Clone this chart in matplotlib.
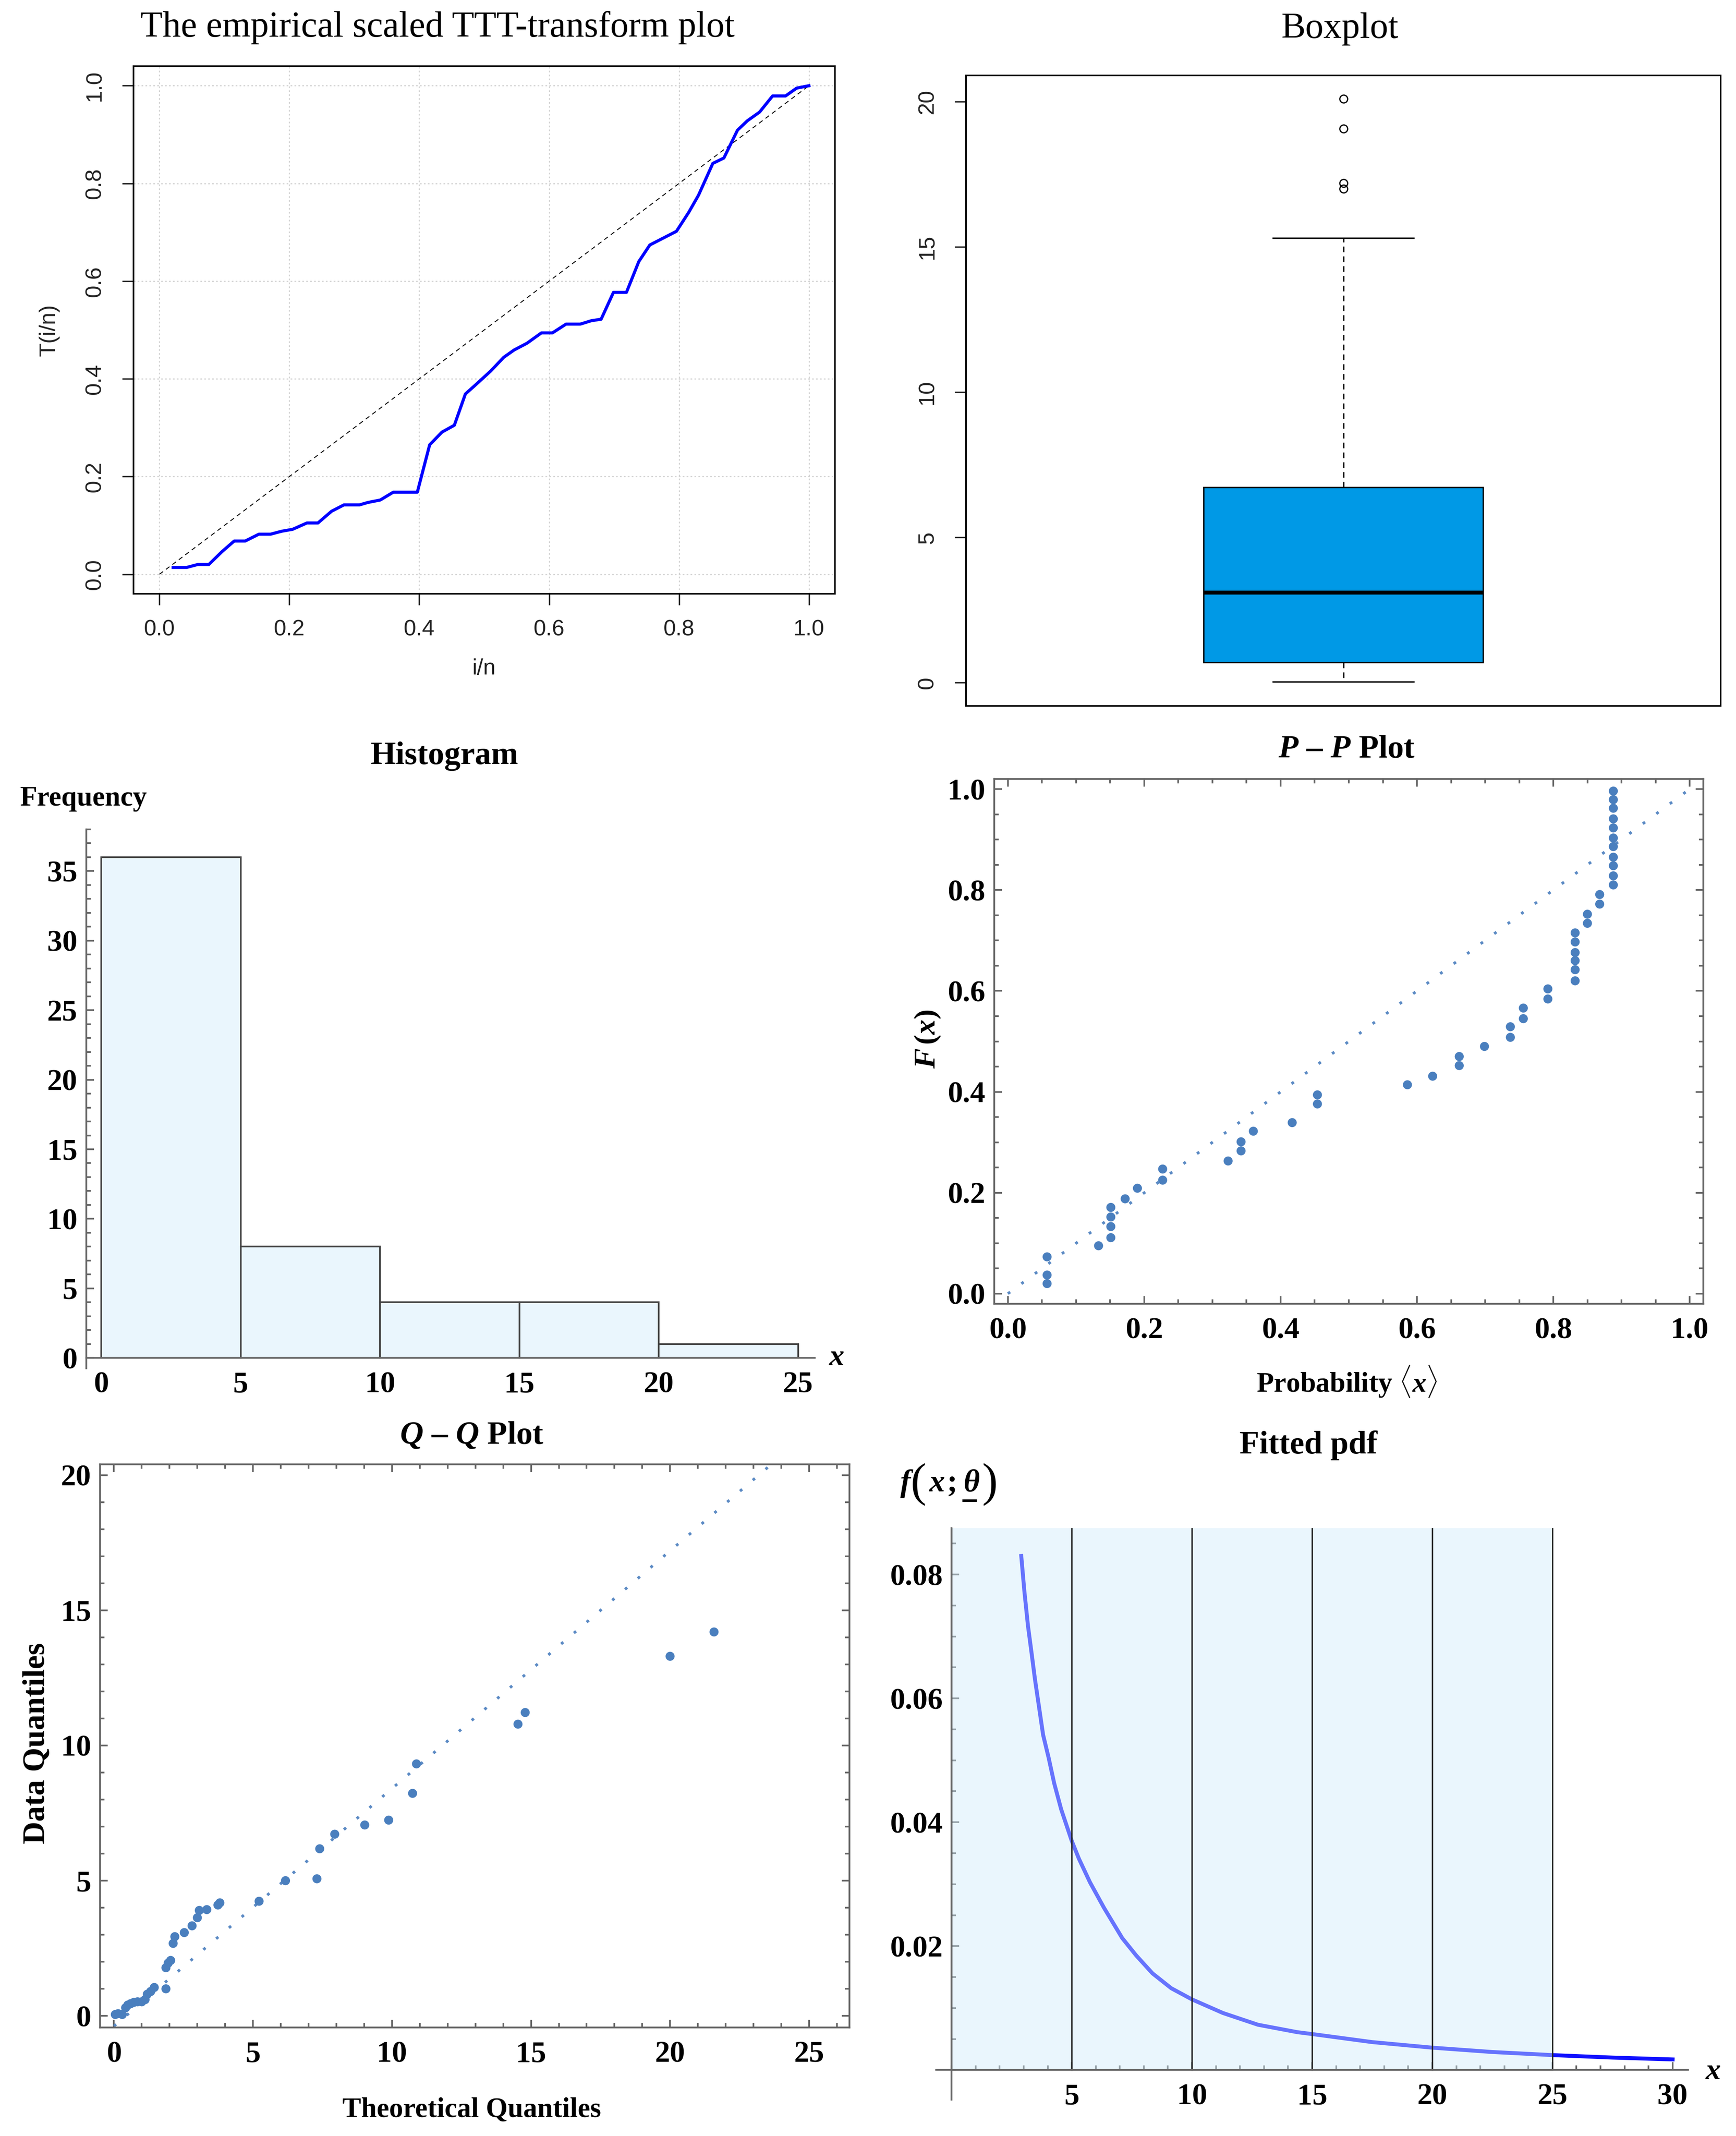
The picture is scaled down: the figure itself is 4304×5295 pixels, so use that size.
import matplotlib
matplotlib.use('Agg')
import matplotlib.pyplot as plt
from matplotlib.lines import Line2D
from matplotlib.ticker import MultipleLocator

W, H = 4304, 5295
DPI = 100

plt.rcParams['mathtext.fontset'] = 'custom'
plt.rcParams['mathtext.rm'] = 'Liberation Serif:bold'
plt.rcParams['mathtext.it'] = 'Liberation Serif:italic:bold'
plt.rcParams['mathtext.bf'] = 'Liberation Serif:bold'

# ---- data ----
# scaled TTT transform
ttt_x = [0.021, 0.042, 0.059, 0.076, 0.096, 0.115, 0.132, 0.153, 0.171, 0.188,
         0.205, 0.227, 0.244, 0.265, 0.284, 0.308, 0.321, 0.340, 0.360, 0.397,
         0.416, 0.435, 0.454, 0.471, 0.487, 0.510, 0.530, 0.546, 0.566, 0.588,
         0.605, 0.626, 0.648, 0.665, 0.680, 0.699, 0.719, 0.738, 0.755, 0.777,
         0.796, 0.815, 0.830, 0.852, 0.869, 0.890, 0.905, 0.924, 0.944, 0.964,
         0.981, 1.0]
ttt_y = [0.014, 0.014, 0.020, 0.020, 0.046, 0.068, 0.068, 0.082, 0.082, 0.088,
         0.092, 0.105, 0.105, 0.129, 0.142, 0.142, 0.147, 0.152, 0.168, 0.168,
         0.265, 0.291, 0.305, 0.369, 0.388, 0.416, 0.444, 0.459, 0.473, 0.494,
         0.494, 0.512, 0.512, 0.519, 0.522, 0.577, 0.577, 0.640, 0.674, 0.689,
         0.702, 0.741, 0.776, 0.841, 0.852, 0.909, 0.928, 0.946, 0.979, 0.979,
         0.995, 1.0]
ttt_ticks = [0.0, 0.2, 0.4, 0.6, 0.8, 1.0]
ttt_labels = ['0.0', '0.2', '0.4', '0.6', '0.8', '1.0']

# boxplot summary
box_whislo = 0.03
box_q1 = 0.70
box_med = 3.10
box_q3 = 6.72
box_whishi = 15.30
box_fliers = [17.0, 17.2, 19.07, 20.09]
box_ticks = [0, 5, 10, 15, 20]

# histogram
hist_edges = [0, 5, 10, 15, 20, 25]
hist_counts = [36, 8, 4, 4, 1]

# P-P plot
pp_x = [0.0575, 0.0575, 0.0575, 0.133, 0.151, 0.151, 0.151, 0.151, 0.172, 0.190,
        0.227, 0.227, 0.323, 0.342, 0.342, 0.360, 0.417, 0.454, 0.454, 0.586,
        0.623, 0.662, 0.662, 0.699, 0.737, 0.737, 0.756, 0.756, 0.792, 0.792,
        0.832, 0.832, 0.832, 0.832, 0.832, 0.832, 0.850, 0.850, 0.868, 0.868,
        0.888, 0.888, 0.888, 0.888, 0.888, 0.888, 0.888, 0.888, 0.888, 0.888,
        0.888]
pp_y = [0.020, 0.037, 0.073, 0.095, 0.111, 0.133, 0.152, 0.171, 0.188, 0.209,
        0.225, 0.247, 0.263, 0.283, 0.301, 0.322, 0.339, 0.376, 0.394, 0.414,
        0.431, 0.452, 0.470, 0.490, 0.508, 0.529, 0.545, 0.566, 0.584, 0.604,
        0.620, 0.642, 0.660, 0.676, 0.697, 0.715, 0.734, 0.752, 0.772, 0.791,
        0.810, 0.828, 0.848, 0.865, 0.886, 0.903, 0.923, 0.941, 0.962, 0.979,
        0.996]
pp_line_x = [0.0, 1.0]
pp_line_y = [0.0, 1.0]
pp_ticks = [0.0, 0.2, 0.4, 0.6, 0.8, 1.0]
pp_labels = ['0.0', '0.2', '0.4', '0.6', '0.8', '1.0']

# Q-Q plot
qq_x = [0.05, 0.15, 0.30, 0.42, 0.50, 0.60, 0.72, 0.85, 1.00, 1.12,
        1.20, 1.32, 1.45, 1.87, 1.87, 1.95, 2.04, 2.13, 2.19, 2.53,
        2.81, 3.00, 3.07, 3.34, 3.74, 3.81, 5.22, 6.17, 7.30, 7.40,
        7.94, 9.02, 9.88, 10.74, 10.88, 14.53, 14.79, 20.00, 21.58]
qq_y = [0.05, 0.08, 0.05, 0.30, 0.40, 0.45, 0.50, 0.52, 0.52, 0.60,
        0.80, 0.90, 1.05, 1.00, 1.78, 1.95, 2.05, 2.68, 2.93, 3.08,
        3.33, 3.63, 3.90, 3.93, 4.10, 4.18, 4.24, 5.00, 5.07, 6.18,
        6.72, 7.06, 7.24, 8.23, 9.32, 10.79, 11.22, 13.30, 14.20]
qq_line_x = [0.0, 23.64]
qq_line_y = [-0.38, 20.4]
qq_xticks = [0, 5, 10, 15, 20, 25]
qq_yticks = [0, 5, 10, 15, 20]

# fitted pdf
pdf_x = [2.90, 3.03, 3.18, 3.32, 3.47, 3.64, 3.81, 4.04, 4.27, 4.56,
         5.00, 5.30, 5.76, 6.34, 7.10, 7.68, 8.36, 9.14, 10.0, 11.29,
         12.75, 14.39, 15.0, 17.5, 20.0, 22.5, 25.0, 27.5, 30.0]
pdf_y = [0.0830, 0.0773, 0.0717, 0.0676, 0.0631, 0.0586, 0.0541, 0.0504, 0.0463, 0.0421,
         0.0370, 0.0341, 0.0303, 0.0262, 0.0213, 0.0185, 0.0156, 0.0132, 0.0114, 0.0092,
         0.0073, 0.0061, 0.0058, 0.0045, 0.0036, 0.0029, 0.0024, 0.0020, 0.0017]
pdf_xticks = [5, 10, 15, 20, 25, 30]
pdf_yticks = [0.02, 0.04, 0.06, 0.08]
pdf_ylabels = ['0.02', '0.04', '0.06', '0.08']

# ---- styles ----
R_FONT = 'Liberation Sans'
SERIF = 'Liberation Serif'
M_GRAY = '#666666'
PT_BLUE = '#4a7fbe'
LINE_BLUE = '#5b8ac4'
R_FS = 40
TICK_FS = 54
LABEL_FS = 50
TITLE_FS = 58

fig = plt.figure(figsize=(W / DPI, H / DPI), dpi=DPI)


def axes_px(l, t, r, b):
    """Add axes from pixel box (left, top, right, bottom)."""
    return fig.add_axes([l / W, 1 - b / H, (r - l) / W, (b - t) / H])


def text_px(x, y, s, **kw):
    fig.text(x / W, 1 - y / H, s, **kw)


def r_style(ax):
    for sp in ax.spines.values():
        sp.set_linewidth(2.8)
        sp.set_color('black')
    ax.tick_params(direction='out', length=20, width=2.5, labelsize=R_FS,
                   colors='#222222')


def m_frame(ax):
    for sp in ax.spines.values():
        sp.set_linewidth(3.2)
        sp.set_color(M_GRAY)
    ax.tick_params(which='both', direction='in', top=True, right=True,
                   color=M_GRAY, width=3)
    ax.tick_params(which='major', length=14, pad=16)
    ax.tick_params(which='minor', length=8)


def m_axes(ax):
    for s in ['left', 'bottom']:
        ax.spines[s].set_color(M_GRAY)
        ax.spines[s].set_linewidth(3.2)
        ax.spines[s].set_zorder(3)
    ax.tick_params(which='both', direction='in', color=M_GRAY, width=3)
    ax.tick_params(which='major', length=14, pad=16)
    ax.tick_params(which='minor', length=8)


def bold_ticks(ax, xt, xl, yt, yl):
    kw = dict(fontsize=TICK_FS, fontweight='bold', family=SERIF)
    ax.set_xticks(xt, labels=xl, **kw)
    ax.set_yticks(yt, labels=yl, **kw)


# ---- TTT plot ----
ax1 = axes_px(331, 164, 2070, 1472)
ax1.plot(ttt_x, ttt_y, color='#0000ff', lw=5.5, zorder=3)
ax1.plot([0, 1], [0, 1], color='black', lw=1.6, ls=(0, (5, 4)), zorder=2)
ax1.set_xlim(-0.04, 1.04)
ax1.set_ylim(-0.04, 1.04)
ax1.set_xticks(ttt_ticks, labels=ttt_labels, family=R_FONT)
ax1.set_yticks(ttt_ticks, labels=ttt_labels, family=R_FONT, rotation=90, va='center')
ax1.grid(True, color='#d3d3d3', lw=2, ls=(0, (1.5, 2)))
r_style(ax1)
ax1.tick_params(axis='x', pad=26)
ax1.tick_params(axis='y', pad=30)
text_px(1200, 1658, 'i/n', family=R_FONT, fontsize=R_FS, ha='center', va='center', color='#222222')
text_px(122, 818, 'T(i/n)', family=R_FONT, fontsize=R_FS, ha='center', va='center',
        rotation=90, color='#222222')
text_px(1085, 68, 'The empirical scaled TTT-transform plot', family=SERIF,
        fontsize=65, ha='center', va='center')

# ---- Boxplot ----
ax2 = axes_px(2395, 187, 4266, 1750)
stats = [dict(med=box_med, q1=box_q1, q3=box_q3, whislo=box_whislo,
              whishi=box_whishi, fliers=box_fliers)]
ax2.bxp(stats, positions=[1], widths=0.37, capwidths=0.187, patch_artist=True,
        boxprops=dict(facecolor='#0099e6', edgecolor='black', linewidth=2.5),
        medianprops=dict(color='black', linewidth=7, solid_capstyle='butt'),
        whiskerprops=dict(color='black', linewidth=2.5, linestyle=(0, (4, 3))),
        capprops=dict(color='black', linewidth=2.5),
        flierprops=dict(marker='o', markerfacecolor='none', markeredgecolor='black',
                        markersize=14, markeredgewidth=2.2))
ax2.set_xlim(0.5, 1.5)
ax2.set_ylim(-0.8, 20.9)
ax2.set_xticks([])
ax2.set_yticks(box_ticks, labels=[str(t) for t in box_ticks], family=R_FONT,
               rotation=90, va='center')
r_style(ax2)
ax2.tick_params(axis='y', pad=30)
text_px(3322, 72, 'Boxplot', family=SERIF, fontsize=65, ha='center', va='center')

# ---- Histogram ----
hist_widths = [hist_edges[i + 1] - hist_edges[i] for i in range(len(hist_counts))]
ax3 = axes_px(214, 2056, 2020, 3392)
ax3.bar(hist_edges[:-1], hist_counts, width=hist_widths, align='edge',
        facecolor='#eaf6fd', edgecolor='#444444', linewidth=3, zorder=2)
ax3.set_xlim(-0.54, 25.6)
ax3.set_ylim(-0.75, 38)
for s in ['top', 'right']:
    ax3.spines[s].set_visible(False)
ax3.spines['bottom'].set_position(('data', 0))
m_axes(ax3)
ax3.tick_params(axis='x', which='major', pad=24)
bold_ticks(ax3, hist_edges, [str(t) for t in hist_edges],
           [0, 5, 10, 15, 20, 25, 30, 35], ['0', '5', '10', '15', '20', '25', '30', '35'])
ax3.xaxis.set_minor_locator(MultipleLocator(1))
ax3.yaxis.set_minor_locator(MultipleLocator(1))
text_px(1102, 1875, 'Histogram', family=SERIF, fontweight='bold', fontsize=TITLE_FS,
        ha='center', va='center')
text_px(50, 1980, 'Frequency', family=SERIF, fontweight='bold', fontsize=LABEL_FS,
        ha='left', va='center')
text_px(2075, 3366, 'x', family=SERIF, fontweight='bold', style='italic',
        fontsize=LABEL_FS + 4, ha='center', va='center')

# ---- P-P plot ----
ax4 = axes_px(2465, 1931, 4223, 3232)
ax4.plot(pp_line_x, pp_line_y, color=LINE_BLUE, lw=5, ls=(0, (1, 5)), zorder=2)
ax4.scatter(pp_x, pp_y, s=260, color=PT_BLUE, edgecolors='none', zorder=3)
ax4.set_xlim(-0.02, 1.02)
ax4.set_ylim(-0.02, 1.02)
m_frame(ax4)
bold_ticks(ax4, pp_ticks, pp_labels, pp_ticks, pp_labels)
ax4.xaxis.set_minor_locator(MultipleLocator(0.05))
ax4.yaxis.set_minor_locator(MultipleLocator(0.05))
ax4.tick_params(axis='x', which='major', pad=24)
text_px(3339, 1858, r'$P$ – $P$ Plot', family=SERIF, fontweight='bold',
        fontsize=TITLE_FS, ha='center', va='center')
text_px(3339, 3424, r'Probability $\langle x\rangle$', family=SERIF, fontweight='bold',
        fontsize=LABEL_FS, ha='center', va='center')
text_px(2300, 2576, r'$F\,(x)$', family=SERIF, fontweight='bold',
        fontsize=LABEL_FS + 4, ha='center', va='center', rotation=90)

# ---- Q-Q plot ----
ax5 = axes_px(248, 3630, 2106, 5026)
ax5.plot(qq_line_x, qq_line_y, color=LINE_BLUE, lw=5, ls=(0, (1, 5)), zorder=2)
ax5.scatter(qq_x, qq_y, s=260, color=PT_BLUE, edgecolors='none', zorder=3)
ax5.set_xlim(-0.5, 26.45)
ax5.set_ylim(-0.43, 20.4)
m_frame(ax5)
bold_ticks(ax5, qq_xticks, [str(t) for t in qq_xticks], qq_yticks, [str(t) for t in qq_yticks])
ax5.xaxis.set_minor_locator(MultipleLocator(1))
ax5.yaxis.set_minor_locator(MultipleLocator(1))
ax5.tick_params(axis='x', which='major', pad=24)
text_px(1170, 3560, r'$Q$ – $Q$ Plot', family=SERIF, fontweight='bold',
        fontsize=TITLE_FS, ha='center', va='center')
text_px(1170, 5231, 'Theoretical Quantiles', family=SERIF, fontweight='bold',
        fontsize=LABEL_FS, ha='center', va='center')
text_px(92, 4322, 'Data Quantiles', family=SERIF, fontweight='bold',
        fontsize=LABEL_FS + 6, ha='center', va='center', rotation=90)

# ---- Fitted pdf ----
ax6 = axes_px(2321, 3788, 4185, 5205)
ax6.plot(pdf_x, pdf_y, color='#1010ff', lw=7, zorder=1,
         solid_joinstyle='round')
ax6.bar(hist_edges[:-1], hist_counts, width=hist_widths, align='edge',
        facecolor=(0.82, 0.93, 0.985, 0.45), edgecolor='#222222',
        linewidth=2.4, zorder=2)
ax6.set_xlim(-0.64, 30.64)
ax6.set_ylim(-0.0048, 0.0875)
for s in ['top', 'right']:
    ax6.spines[s].set_visible(False)
ax6.spines['left'].set_position(('data', 0))
ax6.spines['bottom'].set_position(('data', 0))
m_axes(ax6)
ax6.tick_params(axis='x', which='major', pad=24)
bold_ticks(ax6, pdf_xticks, [str(t) for t in pdf_xticks], pdf_yticks, pdf_ylabels)
ax6.xaxis.set_minor_locator(MultipleLocator(1))
ax6.yaxis.set_minor_locator(MultipleLocator(0.005))
text_px(3244, 3583, 'Fitted pdf', family=SERIF, fontweight='bold',
        fontsize=TITLE_FS, ha='center', va='center')

# y label f(x; theta) with tall brackets and underlined theta
lab = dict(family=SERIF, va='baseline', ha='left')
text_px(2232, 3697, 'f', fontsize=56, style='italic', fontweight='bold', **lab)
text_px(2258, 3707, '(', fontsize=84, **lab)
text_px(2304, 3697, 'x', fontsize=56, style='italic', fontweight='bold', **lab)
text_px(2348, 3697, ';', fontsize=56, fontweight='bold', **lab)
text_px(2388, 3697, 'θ', fontsize=56, style='italic', fontweight='bold', **lab)
text_px(2434, 3707, ')', fontsize=84, **lab)
fig.add_artist(Line2D([2386 / W, 2422 / W], [1 - 3720 / H, 1 - 3720 / H],
                      color='black', lw=4.5, solid_capstyle='butt'))
text_px(4248, 5136, 'x', family=SERIF, fontweight='bold', style='italic',
        fontsize=LABEL_FS + 4, ha='center', va='center')

fig.savefig('out.png', dpi=DPI)
